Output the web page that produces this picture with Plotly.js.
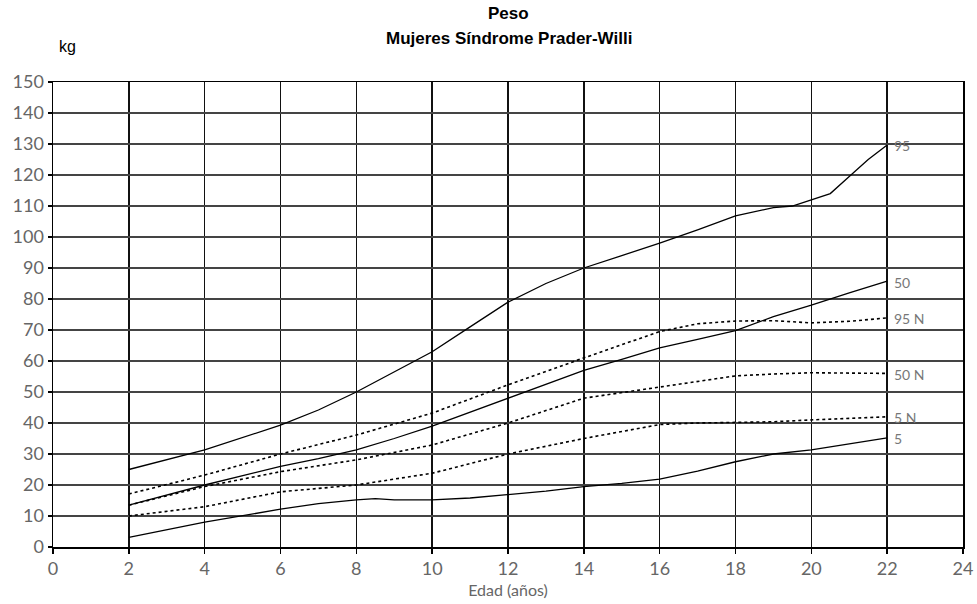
<!DOCTYPE html>
<html><head><meta charset="utf-8">
<script src="https://cdn.plot.ly/plotly-3.0.1.min.js"></script>
<style>html,body{margin:0;padding:0;background:#fff}#chart{width:977px;height:604px}</style>
</head><body><div id="chart"></div>
<script>
const age95 = [2,4,6,7,8,9,10,11,12,13,14,15,16,17,18,19,19.5,20,20.5,21,21.5,22];
const p95   = [25,31.3,39.3,44.2,50,56.5,63,71,79,85,90,94,98,102.3,106.8,109.5,110,112,114,119.5,125,129.7];
const age50 = [2,4,6,7,8,9,10,11,12,13,14,15,16,17,18,19,20,21,22];
const p50   = [13.5,20,26,28.5,31.3,35,39,43.5,48,52.5,57,60.5,64.2,67,69.8,74.3,78,82,85.8];
const age5  = [2,4,6,7,8,8.5,9,10,11,12,13,14,15,16,16.5,17,18,19,20,21,22];
const p5    = [3.1,8,12.2,14,15.2,15.6,15.2,15.2,15.8,16.8,18,19.5,20.5,21.9,23.2,24.5,27.5,30,31.3,33.2,35.2];
const ageN  = [2,4,6,8,10,12,14,16,17,18,19,20,21,22];
const p95N  = [17.1,23.2,30,36.1,43.2,52.3,61,69.5,72,72.9,73,72.3,72.8,73.9];
const p50N  = [13.5,19.5,24.3,28.1,32.9,40,48,51.7,53.5,55.2,55.8,56.2,56.1,56];
const p5N   = [10,13,17.8,20,23.8,30,35,39.5,40,40.1,40.4,41,41.4,42];
const labels = ["95","50","95 N","50 N","5 N","5"];
const labelY = [129.7,85.8,73.9,56,42,35.2];
const xTicks = [0,2,4,6,8,10,12,14,16,18,20,22,24];
const yTicks = [0,10,20,30,40,50,60,70,80,90,100,110,120,130,140,150];
const titleLines = ["Peso","Mujeres Síndrome Prader-Willi"];

const solid = {color:'#000', width:1.3};
const dotted = {color:'#000', width:1.6, dash:'dot'};
const traces = [
  {x:age95, y:p95, mode:'lines', line:solid},
  {x:age50, y:p50, mode:'lines', line:solid},
  {x:age5, y:p5, mode:'lines', line:solid},
  {x:ageN, y:p95N, mode:'lines', line:dotted},
  {x:ageN, y:p50N, mode:'lines', line:dotted},
  {x:ageN, y:p5N, mode:'lines', line:dotted}
].map(t => Object.assign(t, {hoverinfo:'none', showlegend:false}));

const anns = labels.map((t,i)=>({x:22, y:labelY[i], xref:'x', yref:'y', text:t, showarrow:false,
  xanchor:'left', xshift:5, yanchor:'middle', yshift:-1, font:{family:'Lato, sans-serif', size:14, color:'#777'}}));
const titleFont = {family:'Liberation Sans Narrow, Liberation Sans, Arial, sans-serif', size:17, color:'#000'};
anns.push({xref:'paper', yref:'paper', x:0.501, y:1.148, xanchor:'center', yanchor:'middle', text:'<b>'+titleLines[0]+'</b>', showarrow:false, font:titleFont});
anns.push({xref:'paper', yref:'paper', x:0.501, y:1.094, xanchor:'center', yanchor:'middle', text:'<b>'+titleLines[1]+'</b>', showarrow:false, font:titleFont});
anns.push({xref:'paper', yref:'paper', x:0.004, y:1.077, xanchor:'left', yanchor:'middle', text:'kg', showarrow:false,
  font:{family:'Liberation Sans Narrow, Liberation Sans, sans-serif', size:16, color:'#000'}});

const layout = {
  width:977, height:604,
  margin:{l:53, r:14, t:82, b:57},
  paper_bgcolor:'#fff', plot_bgcolor:'#fff',
  xaxis:{range:[0,24], tickvals:xTicks, ticktext:xTicks.map(String), showgrid:true, gridcolor:'#111', gridwidth:1.4,
    zeroline:false, showline:true, mirror:true, linecolor:'#000', linewidth:1.5,
    ticks:'outside', ticklen:5, tickcolor:'#000', tickwidth:1.5,
    tickfont:{family:'Lato, sans-serif', size:18, color:'#666'},
    title:{text:'Edad (años)', standoff:6, font:{family:'Lato, sans-serif', size:16, color:'#666'}}},
  yaxis:{range:[0,150], tickvals:yTicks, ticktext:yTicks.map(String), showgrid:true, gridcolor:'#444', gridwidth:2,
    zeroline:false, showline:true, mirror:true, linecolor:'#000', linewidth:1.5,
    ticks:'outside', ticklen:4, tickcolor:'#000', tickwidth:1.5,
    tickfont:{family:'Lato, sans-serif', size:18, color:'#666'}},
  annotations:anns
};
Plotly.newPlot('chart', traces, layout, {staticPlot:true, displayModeBar:false});
</script></body></html>
